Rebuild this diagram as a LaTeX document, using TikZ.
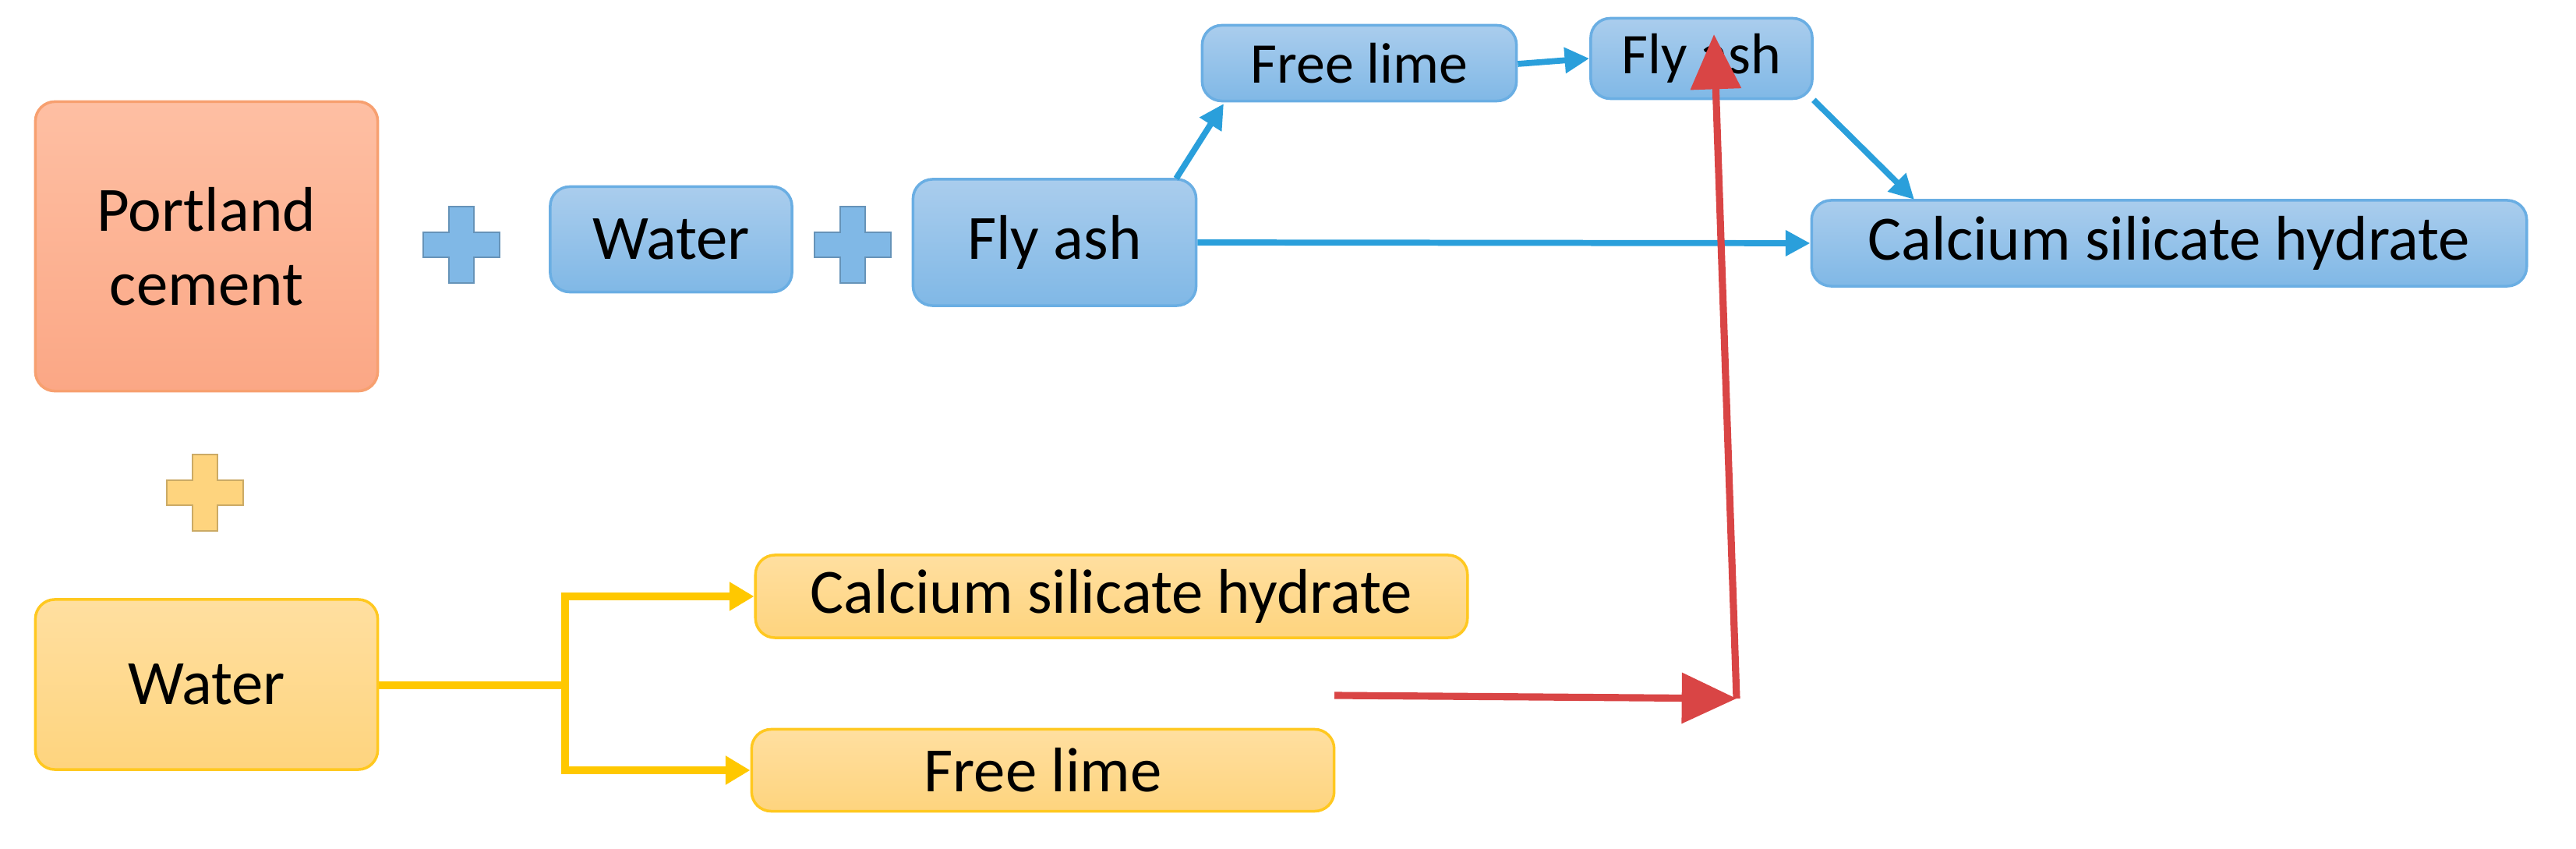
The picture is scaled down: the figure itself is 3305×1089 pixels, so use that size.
\documentclass[tikz,border=0pt]{standalone}
\usepackage{fontspec}
\setmainfont{Carlito}
\usetikzlibrary{arrows.meta}
\definecolor{bT}{HTML}{AACDED}\definecolor{bB}{HTML}{80B8E6}\definecolor{bD}{HTML}{6AAEE3}
\definecolor{oT}{HTML}{FEBFA3}\definecolor{oB}{HTML}{FBA785}\definecolor{oD}{HTML}{F7A070}
\definecolor{yT}{HTML}{FFDFA0}\definecolor{yB}{HTML}{FED47E}\definecolor{yD}{HTML}{FFC820}
\definecolor{arB}{HTML}{2A9FDB}\definecolor{arY}{HTML}{FFC800}\definecolor{arR}{HTML}{D94545}
\begin{document}
\begin{tikzpicture}[x=0.01cm,y=-0.01cm,
 box/.style={rounded corners=0.25cm,inner sep=0pt,font=\fontsize{23}{27}\selectfont,align=center},
 blue/.style={box,draw=bD,line width=1pt,top color=bT,bottom color=bB},
 orange/.style={box,draw=oD,line width=1pt,top color=oT,bottom color=oB},
 yellow/.style={box,draw=yD,line width=1pt,top color=yT,bottom color=yB},
 ba/.style={draw=arB,line width=2.2pt,-{Triangle[length=9pt,width=9pt]}},
 ya/.style={draw=arY,line width=2.6pt},
 ra/.style={draw=arR,line width=2.6pt,-{Triangle[length=20pt,width=18pt]}}]
\useasboundingbox (0,0) rectangle (3305,1089);
\newcommand{\plusat}[3]{\fill[#3,draw=#3!80!black,line width=0.3pt] (#1-49,#2-16) -- (#1-16,#2-16) -- (#1-16,#2-49) -- (#1+16,#2-49) -- (#1+16,#2-16) -- (#1+49,#2-16) -- (#1+49,#2+16) -- (#1+16,#2+16) -- (#1+16,#2+49) -- (#1-16,#2+49) -- (#1-16,#2+16) -- (#1-49,#2+16) -- cycle;}
\node[orange,minimum width=4.39cm,minimum height=3.71cm] (pc) at (265,316) {Portland\\cement};
\plusat{592}{314}{bB}
\node[blue,minimum width=3.10cm,minimum height=1.35cm] (w1) at (861,307) {Water};
\plusat{1094}{314}{bB}
\node[blue,minimum width=3.63cm,minimum height=1.62cm] (fa) at (1353,311) {Fly ash};
\node[blue,minimum width=4.03cm,minimum height=0.97cm,font=\fontsize{21}{25}\selectfont] (fl) at (1744,81) {Free lime};
\node[blue,minimum width=2.84cm,minimum height=1.03cm,font=\fontsize{21}{25}\selectfont] (fa2) at (2183,75) {Fly ash};
\node[blue,minimum width=9.17cm,minimum height=1.10cm] (csh) at (2783,312) {Calcium silicate hydrate};
\plusat{263}{632}{yB}
\node[yellow,minimum width=4.39cm,minimum height=2.18cm] (w2) at (265,878) {Water};
\node[yellow,minimum width=9.13cm,minimum height=1.06cm] (csh2) at (1426,765) {Calcium silicate hydrate};
\node[yellow,minimum width=7.47cm,minimum height=1.05cm] (fl2) at (1338,988) {Free lime};
\coordinate (fatop) at (1509,229);
\draw[ba] (fatop) -- (1570,133);
\draw[ba] (fl.east) ++(0,1) -- (fa2.west);
\draw[ba] (fa2.south east) -- (2456,256);
\draw[ba] (fa.east) -- (csh.west);
\coordinate (jn) at (725,879);
\draw[ya] (w2.east |- jn) -- (jn);
\draw[ya,-{Triangle[length=9pt,width=10pt]}] (725,877) |- (csh2.west);
\draw[ya,-{Triangle[length=9pt,width=10pt]}] (725,877) |- (fl2.west);
\coordinate (rs) at (1712,892);
\coordinate (rc) at (2228,896);
\coordinate (rt) at (2199,44);
\draw[ra] (rs) -- (rc);
\draw[ra] (rc) -- (rt);
\end{tikzpicture}
\end{document}
